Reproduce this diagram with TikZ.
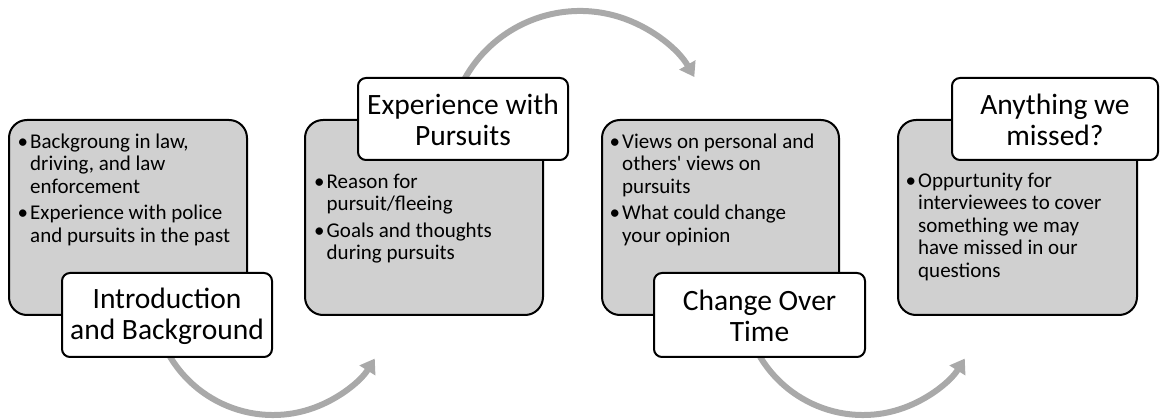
\documentclass[tikz,border=0pt]{standalone}
\usepackage{fontspec}
\setmainfont{Carlito}[Ligatures=TeXOff]
\usetikzlibrary{arrows.meta}
\definecolor{boxgray}{HTML}{D0D0D0}
\definecolor{arrowgray}{HTML}{A9A9A9}
\newcommand{\bl}{\makebox[12pt][l]{\hspace*{-0.5pt}•}}
\newcommand{\ind}{\hspace*{12pt}}
\begin{document}
\begin{tikzpicture}[x=1pt,y=-1pt,
  bodybox/.style={draw=black,line width=2pt,fill=boxgray,rounded corners=18pt},
  labelbox/.style={draw=black,line width=2pt,fill=white,rounded corners=8pt},
  bodytext/.style={anchor=north west,inner sep=0pt,align=left,font=\fontsize{21}{22.5}\selectfont},
  labeltext/.style={inner sep=0pt,align=center,font=\fontsize{29.5}{31}\selectfont},
  arc/.style={draw=arrowgray,line width=6pt,-{Triangle[length=14pt,width=18pt]}}]
\useasboundingbox (0,0) rectangle (1160,419);
% arrows
\draw[arc] (273,295) ++(160:120) arc[start angle=160,end angle=32,radius=120] coordinate (a1e);
\draw[arc] (580,143) ++(200:132) arc[start angle=200,end angle=330,radius=132] coordinate (a2e);
\draw[arc] (863,295) ++(160:120) arc[start angle=160,end angle=32,radius=120] coordinate (a3e);
% body boxes
\path[bodybox] (9,120) rectangle (247,315) coordinate (b1);
\path[bodybox] (305,120) rectangle (543,315) coordinate (b2);
\path[bodybox] (602,120) rectangle (839,315) coordinate (b3);
\path[bodybox] (898,120) rectangle (1137,315) coordinate (b4);
% body texts
\node[bodytext] (t1) at (18,132.5) {\strut\bl Backgroung in law,\\ \ind driving, and law\\ \ind enforcement\\[4pt] \bl Experience with police\\ \ind and pursuits in the past};
\node[bodytext] (t2) at (314.5,172.5) {\strut\bl Reason for\\ \ind pursuit/fleeing\\[4pt] \bl Goals and thoughts\\ \ind during pursuits};
\node[bodytext] (t3) at (610,132.5) {\strut\bl Views on personal and\\ \ind others' views on\\ \ind pursuits\\[4pt] \bl What could change\\ \ind your opinion};
\node[bodytext] (t4) at (906,171.5) {\strut\bl Oppurtunity for\\ \ind interviewees to cover\\ \ind something we may\\ \ind have missed in our\\ \ind questions};
% labels
\path[labelbox] (62,273) rectangle (272,357);
\node[labeltext] (l1) at (167,316) {Introduction\\and Background};
\path[labelbox] (358,78) rectangle (568,160);
\node[labeltext] (l2) at (463,120) {Experience with\\Pursuits};
\path[labelbox] (654,273) rectangle (865,357);
\node[labeltext] (l3) at (759.5,316) {Change Over\\Time};
\path[labelbox] (952,78) rectangle (1158,160);
\node[labeltext] (l4) at (1055,120) {Anything we\\missed?};
\end{tikzpicture}
\end{document}
